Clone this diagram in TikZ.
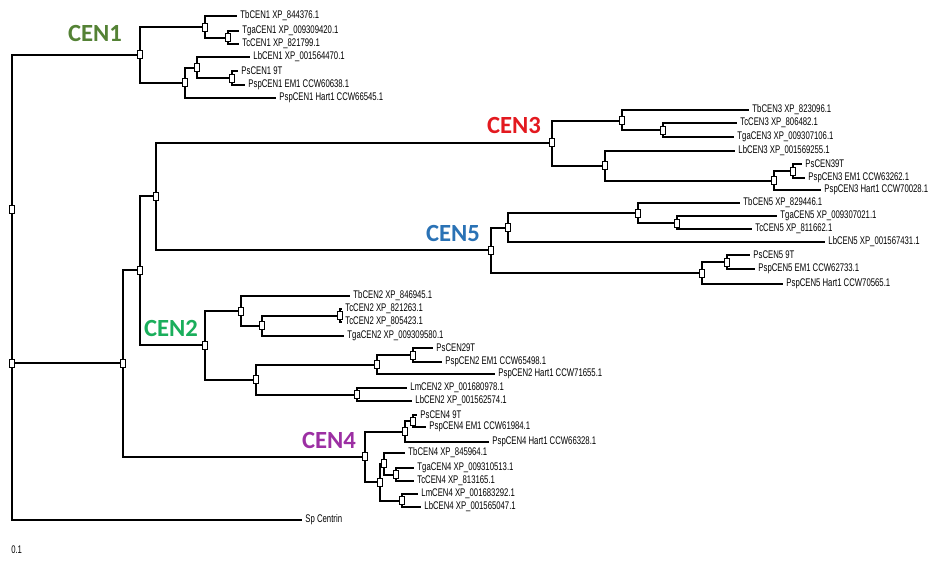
\documentclass[tikz,border=0pt]{standalone}
\usepackage{fontspec}
\newfontfamily\leaffont[FakeStretch=0.7]{Liberation Sans}
\newfontfamily\cladefont{Carlito}
\definecolor{cenone}{HTML}{548235}
\definecolor{centwo}{HTML}{1AAE5B}
\definecolor{centhree}{HTML}{E3191F}
\definecolor{cenfour}{HTML}{9C2FA3}
\definecolor{cenfive}{HTML}{2A72B5}

\begin{document}
\begin{tikzpicture}[
x=0.75pt, y=-0.75pt,
junction/.style={rectangle, draw, fill=white, line width=0.5pt, minimum width=3.6pt, minimum height=6pt, inner sep=0pt},
leaf/.style={anchor=west, inner xsep=2.4pt, inner ysep=0pt, font=\leaffont\fontsize{8.3}{9}\selectfont},
clade/.style={font=\cladefont\bfseries\fontsize{18.5}{20}\selectfont},
branch/.style={line width=1.5pt}
]
\useasboundingbox (0,0) rectangle (945,561);

\node (r1) [junction] at (12,209) {};
\node (r2) [junction] at (12,363) {};
\node (n1) [junction] at (123,363) {};
\node (n2) [junction] at (140,270) {};
\node (n3) [junction] at (156,196) {};
\node (sp) [leaf] at (302,520) {Sp Centrin};
\node (scale) [leaf, inner xsep=0pt] at (11,550) {0.1};

\node (c1) [junction] at (140,54.5) {};
\node (c1a) [junction] at (205,27) {};
\node (c1b) [junction] at (228,37.5) {};
\node (c1c) [junction] at (185,82.5) {};
\node (c1d) [junction] at (197,67.5) {};
\node (c1e) [junction] at (232,78) {};
\node (tb1) [leaf] at (237,16) {TbCEN1 XP\_844376.1};
\node (tga1) [leaf] at (239,31) {TgaCEN1 XP\_009309420.1};
\node (tc1) [leaf] at (239,44) {TcCEN1 XP\_821799.1};
\node (lb1) [leaf] at (250,57) {LbCEN1 XP\_001564470.1};
\node (ps1) [leaf] at (238,71) {PsCEN1 9T};
\node (pspem1) [leaf] at (245,85) {PspCEN1 EM1 CCW60638.1};
\node (psphart1) [leaf] at (276,98) {PspCEN1 Hart1 CCW66545.1};
\node (cen1) [clade, text=cenone] at (95,33) {CEN1};

\node (c3) [junction] at (552,142.5) {};
\node (c3a) [junction] at (622,120.5) {};
\node (c3b) [junction] at (663,130) {};
\node (c3c) [junction] at (605,165.5) {};
\node (c3d) [junction] at (774,180.5) {};
\node (c3e) [junction] at (793,171) {};
\node (tb3) [leaf] at (749,110) {TbCEN3 XP\_823096.1};
\node (tc3) [leaf] at (737,123) {TcCEN3 XP\_806482.1};
\node (tga3) [leaf] at (734,137) {TgaCEN3 XP\_009307106.1};
\node (lb3) [leaf] at (735,151) {LbCEN3 XP\_001569255.1};
\node (ps3) [leaf] at (802,164) {PsCEN39T};
\node (pspem3) [leaf] at (805,178) {PspCEN3 EM1 CCW63262.1};
\node (psphart3) [leaf] at (821,190) {PspCEN3 Hart1 CCW70028.1};
\node (cen3) [clade, text=centhree] at (514,125) {CEN3};

\node (c5) [junction] at (491,250) {};
\node (c5a) [junction] at (508,227.5) {};
\node (c5b) [junction] at (638,213) {};
\node (c5c) [junction] at (677,223) {};
\node (c5d) [junction] at (702,273) {};
\node (c5e) [junction] at (727,262) {};
\node (tb5) [leaf] at (740,203) {TbCEN5 XP\_829446.1};
\node (tga5) [leaf] at (777,216) {TgaCEN5 XP\_009307021.1};
\node (tc5) [leaf] at (752,229) {TcCEN5 XP\_811662.1};
\node (lb5) [leaf] at (825,242) {LbCEN5 XP\_001567431.1};
\node (ps5) [leaf] at (750,255) {PsCEN5 9T};
\node (pspem5) [leaf] at (755,269) {PspCEN5 EM1 CCW62733.1};
\node (psphart5) [leaf] at (783,284) {PspCEN5 Hart1 CCW70565.1};
\node (cen5) [clade, text=cenfive] at (453,233) {CEN5};

\node (c2) [junction] at (205,345) {};
\node (c2a) [junction] at (241,311) {};
\node (c2b) [junction] at (262,325.5) {};
\node (c2c) [junction] at (340,315.5) {};
\node (c2d) [junction] at (256,379.5) {};
\node (c2e) [junction] at (377,364.5) {};
\node (c2f) [junction] at (413,355) {};
\node (c2g) [junction] at (357,394.5) {};
\node (tb2) [leaf] at (350,296) {TbCEN2 XP\_846945.1};
\node (tc2a) [leaf] at (342,309) {TcCEN2 XP\_821263.1};
\node (tc2b) [leaf] at (342,322) {TcCEN2 XP\_805423.1};
\node (tga2) [leaf] at (344,336) {TgaCEN2 XP\_009309580.1};
\node (ps2) [leaf] at (433,348) {PsCEN29T};
\node (pspem2) [leaf] at (442,362) {PspCEN2 EM1 CCW65498.1};
\node (psphart2) [leaf] at (495,374) {PspCEN2 Hart1 CCW71655.1};
\node (lm2) [leaf] at (407,388) {LmCEN2 XP\_001680978.1};
\node (lb2) [leaf] at (412,401) {LbCEN2 XP\_001562574.1};
\node (cen2) [clade, text=centwo] at (171,328) {CEN2};

\node (c4) [junction] at (365,456.5) {};
\node (c4a) [junction] at (405,431.5) {};
\node (c4b) [junction] at (413,421) {};
\node (c4c) [junction] at (380,482) {};
\node (c4d) [junction] at (384,463.5) {};
\node (c4e) [junction] at (396,474.5) {};
\node (c4f) [junction] at (402,500.5) {};
\node (ps4) [leaf] at (417,415) {PsCEN4 9T};
\node (pspem4) [leaf] at (426,427) {PspCEN4 EM1 CCW61984.1};
\node (psphart4) [leaf] at (489,442) {PspCEN4 Hart1 CCW66328.1};
\node (tb4) [leaf] at (405,453) {TbCEN4 XP\_845964.1};
\node (tga4) [leaf] at (414,468) {TgaCEN4 XP\_009310513.1};
\node (tc4) [leaf] at (414,481) {TcCEN4 XP\_813165.1};
\node (lm4) [leaf] at (418,494) {LmCEN4 XP\_001683292.1};
\node (lb4) [leaf] at (421,507) {LbCEN4 XP\_001565047.1};
\node (cen4) [clade, text=cenfour] at (329,440) {CEN4};


\draw [branch] (r1) |- (c1);
\draw [branch] (r1) -- (r2);
\draw [branch] (r2) -- (n1);
\draw [branch] (r2) |- (sp);
\draw [branch] (n1) |- (n2);
\draw [branch] (n1) |- (c4);
\draw [branch] (n2) |- (n3);
\draw [branch] (n2) |- (c2);
\draw [branch] (n3) |- (c3);
\draw [branch] (n3) |- (c5);

\draw [branch] (c1) |- (c1a);
\draw [branch] (c1) |- (c1c);
\draw [branch] (c1a) |- (tb1);
\draw [branch] (c1a) |- (c1b);
\draw [branch] (c1b) |- (tga1);
\draw [branch] (c1b) |- (tc1);
\draw [branch] (c1c) |- (c1d);
\draw [branch] (c1c) |- (psphart1);
\draw [branch] (c1d) |- (lb1);
\draw [branch] (c1d) |- (c1e);
\draw [branch] (c1e) |- (ps1);
\draw [branch] (c1e) |- (pspem1);

\draw [branch] (c3) |- (c3a);
\draw [branch] (c3) |- (c3c);
\draw [branch] (c3a) |- (tb3);
\draw [branch] (c3a) |- (c3b);
\draw [branch] (c3b) |- (tc3);
\draw [branch] (c3b) |- (tga3);
\draw [branch] (c3c) |- (lb3);
\draw [branch] (c3c) |- (c3d);
\draw [branch] (c3d) |- (c3e);
\draw [branch] (c3d) |- (psphart3);
\draw [branch] (c3e) |- (ps3);
\draw [branch] (c3e) |- (pspem3);

\draw [branch] (c5) |- (c5a);
\draw [branch] (c5) |- (c5d);
\draw [branch] (c5a) |- (c5b);
\draw [branch] (c5a) |- (lb5);
\draw [branch] (c5b) |- (tb5);
\draw [branch] (c5b) |- (c5c);
\draw [branch] (c5c) |- (tga5);
\draw [branch] (c5c) |- (tc5);
\draw [branch] (c5d) |- (c5e);
\draw [branch] (c5d) |- (psphart5);
\draw [branch] (c5e) |- (ps5);
\draw [branch] (c5e) |- (pspem5);

\draw [branch] (c2) |- (c2a);
\draw [branch] (c2) |- (c2d);
\draw [branch] (c2a) |- (tb2);
\draw [branch] (c2a) |- (c2b);
\draw [branch] (c2b) |- (c2c);
\draw [branch] (c2b) |- (tga2);
\draw [branch] (c2c) |- (tc2a);
\draw [branch] (c2c) |- (tc2b);
\draw [branch] (c2d) |- (c2e);
\draw [branch] (c2d) |- (c2g);
\draw [branch] (c2e) |- (c2f);
\draw [branch] (c2e) |- (psphart2);
\draw [branch] (c2f) |- (ps2);
\draw [branch] (c2f) |- (pspem2);
\draw [branch] (c2g) |- (lm2);
\draw [branch] (c2g) |- (lb2);

\draw [branch] (c4) |- (c4a);
\draw [branch] (c4) |- (c4c);
\draw [branch] (c4a) |- (c4b);
\draw [branch] (c4a) |- (psphart4);
\draw [branch] (c4b) |- (ps4);
\draw [branch] (c4b) |- (pspem4);
\draw [branch] (c4c) |- (c4d);
\draw [branch] (c4c) |- (c4f);
\draw [branch] (c4d) |- (tb4);
\draw [branch] (c4d) |- (c4e);
\draw [branch] (c4e) |- (tga4);
\draw [branch] (c4e) |- (tc4);
\draw [branch] (c4f) |- (lm4);
\draw [branch] (c4f) |- (lb4);

\end{tikzpicture}
\end{document}
